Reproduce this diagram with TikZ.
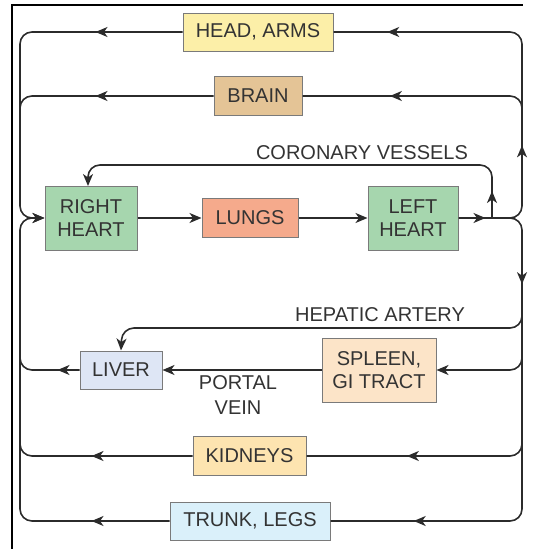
\documentclass[tikz,border=0pt]{standalone}
\usepackage{fontspec}
\setmainfont{Liberation Sans}
\usetikzlibrary{arrows.meta,decorations.markings}
\definecolor{linec}{HTML}{2B2B2B}
\definecolor{boxgray}{HTML}{7A7A7A}
\definecolor{txt}{HTML}{333333}
\definecolor{cHead}{HTML}{FCEFA8}
\definecolor{cBrain}{HTML}{E4C496}
\definecolor{cHeart}{HTML}{A6D6AE}
\definecolor{cLung}{HTML}{F5AA8C}
\definecolor{cLiver}{HTML}{DEE6F5}
\definecolor{cSpleen}{HTML}{FCE4C8}
\definecolor{cKid}{HTML}{FDE4B0}
\definecolor{cTrunk}{HTML}{DAF0FA}
\tikzset{
  organ/.style={draw=boxgray, line width=1pt, inner sep=0pt, align=center,
    text=txt, font=\fontsize{20}{23}\selectfont},
  lbl/.style={text=txt, align=center, inner sep=0pt, font=\fontsize{20}{25}\selectfont},
  flow/.style={draw=linec, line width=1.6pt, rounded corners=12pt},
  tip/.style={-{Stealth[length=12pt,width=10pt,inset=3.5pt]}},
  midarrow/.style={postaction={decorate,decoration={markings,
    mark=at position #1 with {\arrow[linec]{Stealth[length=12pt,width=10pt,inset=3.5pt]}}}}}
}
\begin{document}
\begin{tikzpicture}[x=1pt,y=-1pt]
\useasboundingbox (0,0) rectangle (533,549);
% frame
\draw[black, line width=2pt] (12,549) -- (12,5) -- (523,5);

% nodes
\node[organ, fill=cHead, minimum width=150pt, minimum height=38pt] (HA) at (258,32) {HEAD, ARMS};
\node[organ, fill=cBrain, minimum width=88pt, minimum height=39pt] (BR) at (258,96) {BRAIN};
\node[organ, fill=cHeart, minimum width=92pt, minimum height=64pt] (RH) at (91,218) {RIGHT\\HEART};
\node[organ, fill=cLung, minimum width=96pt, minimum height=39pt] (LU) at (250,218) {LUNGS};
\node[organ, fill=cHeart, minimum width=90pt, minimum height=64pt] (LH) at (413,218) {LEFT\\HEART};
\node[organ, fill=cLiver, minimum width=82pt, minimum height=38pt] (LV) at (121,370) {LIVER};
\node[organ, fill=cSpleen, minimum width=114pt, minimum height=64pt] (SP) at (379,370) {SPLEEN,\\GI TRACT};
\node[organ, fill=cKid, minimum width=113pt, minimum height=39pt] (KD) at (249.5,456) {KIDNEYS};
\node[organ, fill=cTrunk, minimum width=160pt, minimum height=38pt] (TL) at (250,521) {TRUNK, LEGS};

\node[lbl] (cor) at (362,153) {CORONARY VESSELS};
\node[lbl] (hep) at (380,315) {HEPATIC ARTERY};
\node[lbl] (por) at (238,395) {PORTAL\\VEIN};

% coordinates
\coordinate (aj) at (522,218);
\coordinate (rbTop) at (522,32);
\coordinate (rbBrain) at (522,120);
\coordinate (rbBot) at (522,521);
\coordinate (rbHep) at (522,305);
\coordinate (rbSp) at (522,348);
\coordinate (rbKd) at (522,432);
\coordinate (corJ) at (492,218);
\coordinate (lbTop) at (20,32);
\coordinate (lbHeart) at (20,218);
\coordinate (lbBrain) at (20,120);
\coordinate (lbBot) at (20,521);
\coordinate (lbLiver) at (20,345);
\coordinate (lbKd) at (20,430);

% pulmonary
\draw[flow, tip] (RH.east) -- (LU.west);
\draw[flow, tip] (LU.east) -- (LH.west);

% aorta up to head and arms
\draw[flow, midarrow=27pt, midarrow=131pt, midarrow=374pt]
  (LH.east) -- (aj) -- (rbTop) -- (HA.east);
% brain branch
\draw[flow, midarrow=151pt] (rbBrain) -- (rbBrain |- BR.east) -- (BR.east);
% aorta down to trunk and legs
\draw[flow, midarrow=91pt, midarrow=431pt] (corJ) -- (aj) -- (rbBot) -- (TL.east);
% hepatic artery
\draw[flow, tip] (rbHep) -- (522,328) -- (122,328) -- (LV.north);
% spleen
\draw[flow, tip] (rbSp) -- (rbSp |- SP.east) -- (SP.east);
% portal vein
\draw[flow, tip] (SP.west) -- (LV.east);
% kidneys
\draw[flow, midarrow=134pt] (rbKd) -- (rbKd |- KD.east) -- (KD.east);
% coronary
\draw[flow, midarrow=27pt, tip] (corJ) -- (492,165) -- (88,165) -- (88,186);

% venous return
\draw[flow, midarrow=87pt, tip] (HA.west) -- (lbTop) -- (lbHeart) -- (RH.west);
\draw[flow, midarrow=118pt] (BR.west) -- (lbBrain |- BR.west) -- (lbBrain);
\draw[flow, midarrow=22pt] (LV.west) -- (lbLiver |- LV.west) -- (lbLiver);
\draw[flow, midarrow=101pt] (KD.west) -- (lbKd |- KD.west) -- (lbKd);
\draw[flow, midarrow=78pt, tip] (TL.west) -- (lbBot) -- (lbHeart) -- (RH.west);
\end{tikzpicture}
\end{document}
